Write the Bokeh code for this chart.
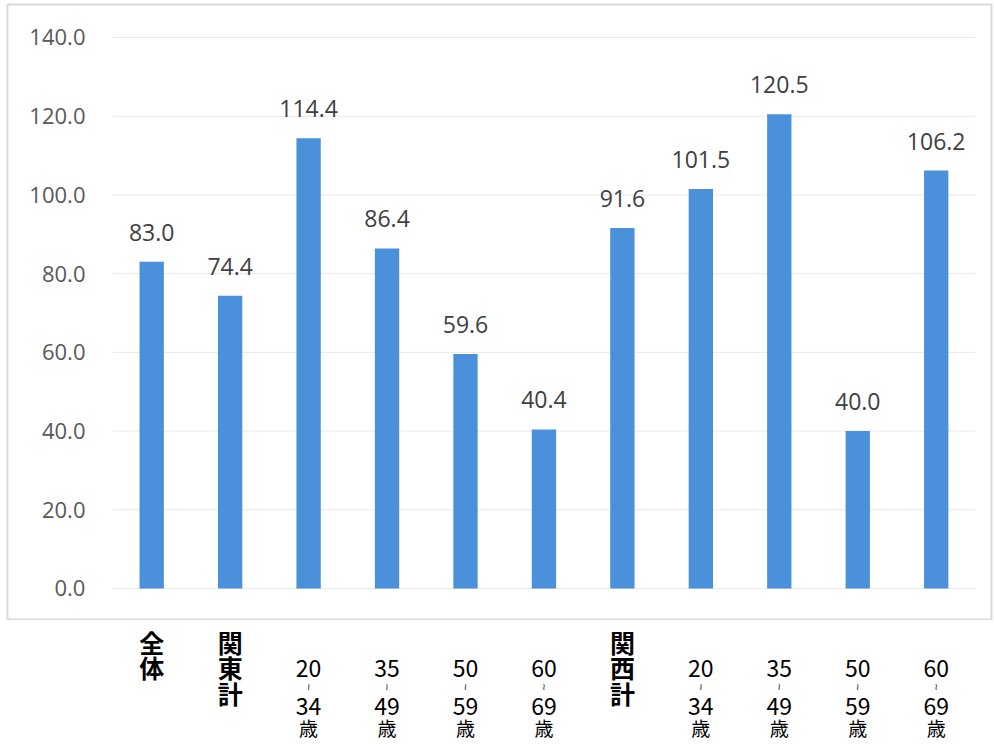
from bokeh.plotting import figure
from bokeh.layouts import column
from bokeh.models import ColumnDataSource, Range1d, FixedTicker, NumeralTickFormatter, LinearAxis
from bokeh.core.properties import value
from bokeh.embed import file_html
from bokeh.resources import INLINE

# ---- data ----
categories = ["全体", "関東計", "関東20-34歳", "関東35-49歳", "関東50-59歳", "関東60-69歳",
              "関西計", "関西20-34歳", "関西35-49歳", "関西50-59歳", "関西60-69歳"]
values = [83.0, 74.4, 114.4, 86.4, 59.6, 40.4, 91.6, 101.5, 120.5, 40.0, 106.2]
group_labels = ["全\n体", "関\n東\n計", "", "", "", "", "関\n西\n計", "", "", "", ""]
age_from = ["", "", "20", "35", "50", "60", "", "20", "35", "50", "60"]
age_to = ["", "", "34", "49", "59", "69", "", "34", "49", "59", "69"]
y_ticks = [0, 20, 40, 60, 80, 100, 120, 140]

BAR = "#4A90DA"
W = 994
n = len(categories)
xpos = list(range(n))

X0, X1 = -1.838, 10.705          # horizontal extent of the bordered chart box
src = ColumnDataSource(dict(x=xpos, val=values, lab=["%.1f" % v for v in values]))

top = figure(x_range=Range1d(X0, X1), y_range=Range1d(-7.88, 148.38), width=W, height=620,
             output_backend="svg", toolbar_location=None,
             x_axis_location=None, y_axis_location=None,
             min_border_left=7, min_border_right=3, min_border_top=4, min_border_bottom=1)
top.outline_line_color = "#d9d9d9"
top.outline_line_width = 2
top.background_fill_color = "white"
top.border_fill_color = "white"
top.grid.visible = False

# horizontal grid lines spanning the category area only
top.segment(x0=[-0.5] * len(y_ticks), x1=[n - 0.5] * len(y_ticks), y0=y_ticks, y1=y_ticks,
            line_color="#e8e8e8", line_width=1)

top.vbar(x="x", top="val", width=0.31, source=src, fill_color=BAR, line_color=None)
top.text(x="x", y="val", text="lab", source=src, text_align="center",
         text_baseline="bottom", y_offset=-21, text_font=value("Open Sans"),
         text_font_size="23px", text_color="#404040")

yax = LinearAxis(fixed_location=-0.5, ticker=FixedTicker(ticks=y_ticks),
                 formatter=NumeralTickFormatter(format="0.0"))
yax.axis_line_color = None
yax.major_tick_line_color = None
yax.minor_tick_line_color = None
yax.major_tick_out = 0
yax.major_tick_in = 0
yax.minor_tick_out = 0
yax.major_label_standoff = 27
yax.major_label_text_font = "Open Sans"
yax.major_label_text_font_size = "22px"
yax.major_label_text_color = "#595959"
top.add_layout(yax, "left")

# ---- category labels below the chart box ----
lsrc = ColumnDataSource(dict(x=xpos, grp=group_labels, a=age_from, b=age_to,
                             til=["≀" if s else "" for s in age_from],
                             sai=["歳" if s else "" for s in age_from],
                             y_grp=[3] * n, y_a=[48] * n, y_til=[66] * n,
                             y_b=[86] * n, y_sai=[107] * n))

BH = 123
bot = figure(x_range=Range1d(X0, X1), y_range=Range1d(BH, 0), width=W, height=BH,
             output_backend="svg", toolbar_location=None,
             x_axis_location=None, y_axis_location=None,
             min_border_left=7, min_border_right=3, min_border_top=0, min_border_bottom=0)
bot.outline_line_color = None
bot.grid.visible = False

bot.text(x="x", y="y_grp", text="grp", source=lsrc, text_align="center", text_baseline="top",
         text_font=value("Noto Sans CJK JP"), text_font_style="bold", text_font_size="25px",
         text_line_height=0.72, text_color="black")
bot.text(x="x", y="y_a", text="a", source=lsrc, text_align="center", text_baseline="middle",
         text_font=value("Noto Sans CJK JP"), text_font_size="23px", text_color="black")
bot.text(x="x", y="y_til", text="til", source=lsrc, text_align="center", text_baseline="middle",
         text_font=value("DejaVu Sans"), text_font_size="9px", text_color="black")
bot.text(x="x", y="y_b", text="b", source=lsrc, text_align="center", text_baseline="middle",
         text_font=value("Noto Sans CJK JP"), text_font_size="23px", text_color="black")
bot.text(x="x", y="y_sai", text="sai", source=lsrc, text_align="center", text_baseline="middle",
         text_font=value("Noto Sans CJK JP"), text_font_size="19px", text_color="black")

layout = column(top, bot, spacing=0)
open("out.html", "w").write(file_html(layout, INLINE))
